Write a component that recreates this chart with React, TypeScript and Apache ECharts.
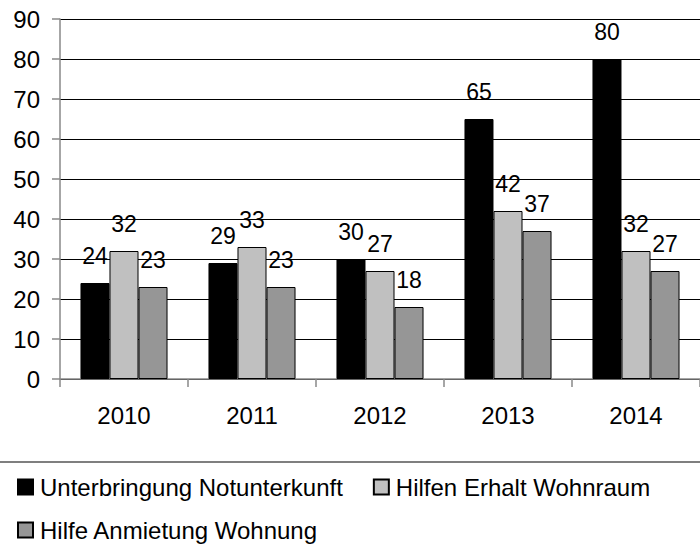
import React, { useEffect, useRef } from "react";
import * as echarts from "echarts";

const categories = ["2010", "2011", "2012", "2013", "2014"];
const seriesNames = [
  "Unterbringung Notunterkunft",
  "Hilfen Erhalt Wohnraum",
  "Hilfe Anmietung Wohnung",
];
const notunterkunft = [24, 29, 30, 65, 80];
const erhaltWohnraum = [32, 33, 27, 42, 32];
const anmietungWohnung = [23, 23, 18, 37, 27];
const seriesColors = ["#000000", "#c0c0c0", "#969696"];

const FONT = "'Liberation Sans', Arial, sans-serif";

export default function App() {
  const ref = useRef<HTMLDivElement>(null);
  useEffect(() => {
    if (!ref.current) return;
    const chart = echarts.init(ref.current, undefined, { renderer: "svg" });
    const values = [notunterkunft, erhaltWohnraum, anmietungWohnung];
    const legendBase = {
      show: true,
      left: 12,
      orient: "horizontal",
      itemWidth: 15,
      itemHeight: 15,
      itemGap: 30,
      icon: "rect",
      textStyle: { fontSize: 24, color: "#000", fontFamily: FONT, padding: [0, 0, 0, 2] },
    };
    chart.setOption({
      animation: false,
      backgroundColor: "#ffffff",
      textStyle: { fontFamily: FONT },
      grid: { left: 60, right: 0, top: 19, bottom: 171, containLabel: false },
      xAxis: {
        type: "category",
        data: categories,
        axisLine: { show: true, lineStyle: { color: "#888888", width: 1.5 } },
        axisTick: { show: true, length: 8, lineStyle: { color: "#888888", width: 1.5 } },
        axisLabel: { fontSize: 24, color: "#000", margin: 24, fontFamily: FONT },
        splitLine: { show: false },
      },
      yAxis: {
        type: "value",
        min: 0,
        max: 90,
        interval: 10,
        axisLine: { show: true, lineStyle: { color: "#888888", width: 1.5 } },
        axisTick: { show: true, length: 8, lineStyle: { color: "#888888", width: 1.5 } },
        axisLabel: { fontSize: 24, color: "#000", margin: 20, fontFamily: FONT },
        splitLine: { show: true, lineStyle: { color: "#000000", width: 1 } },
      },
      legend: [
        { ...legendBase, top: 470, data: [seriesNames[0], seriesNames[1]] },
        { ...legendBase, top: 513, data: [seriesNames[2]] },
      ],
      graphic: [
        {
          type: "line",
          shape: { x1: 0, y1: 462, x2: 700, y2: 462 },
          style: { stroke: "#555555", lineWidth: 1.5 },
        },
      ],
      series: seriesNames.map((name, i) => ({
        name,
        type: "bar",
        data: values[i],
        barGap: "0%",
        barCategoryGap: "32%",
        itemStyle: { color: seriesColors[i], borderColor: "#000", borderWidth: 1 },
        label: {
          show: true,
          position: "top",
          distance: 16,
          fontSize: 23,
          color: "#000",
          fontFamily: FONT,
        },
      })),
    });
    return () => chart.dispose();
  }, []);
  return (
    <div
      ref={ref}
      style={{ position: "fixed", left: 0, top: 0, width: 700, height: 550 }}
    />
  );
}
